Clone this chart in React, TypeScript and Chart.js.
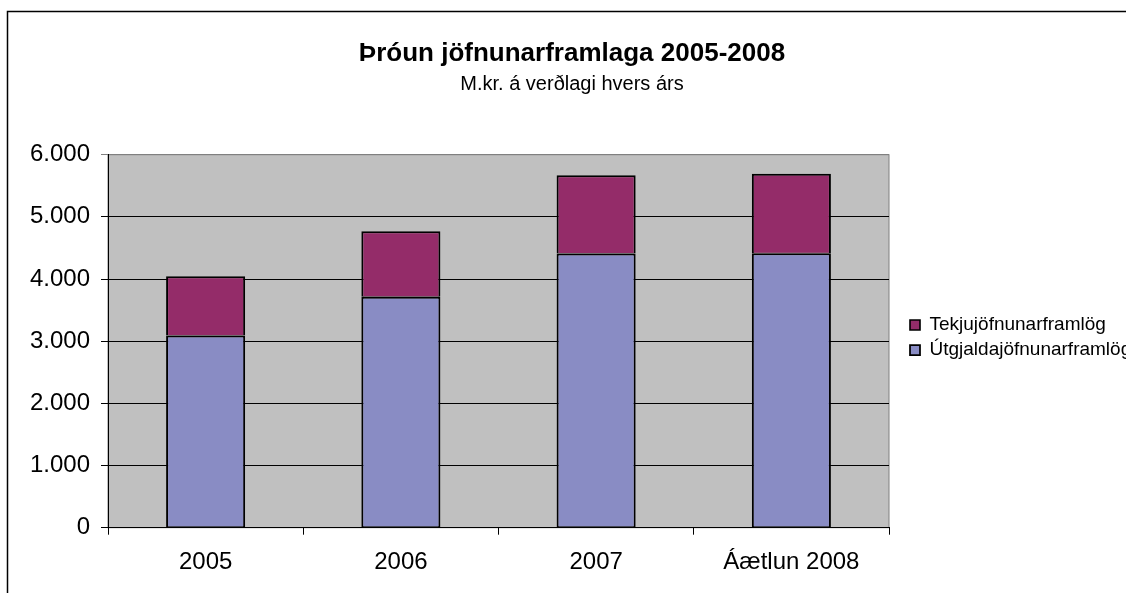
import React, { useEffect, useRef } from "react";
import { Chart, registerables } from "chart.js";

Chart.register(...registerables);

const categories = ["2005", "2006", "2007", "Áætlun 2008"];
const utgjaldaValues = [3090, 3715, 4410, 4415];
const tekjuValues = [955, 1055, 1260, 1280];
const seriesNames = ["Útgjaldajöfnunarframlög", "Tekjujöfnunarframlög"];
const seriesColors = ["#898CC4", "#942C69"];
const yMin = 0;
const yMax = 6000;
const yStep = 1000;
const titleText = "Þróun jöfnunarframlaga 2005-2008";
const subtitleText = "M.kr. á verðlagi hvers árs";

const FONT = "'Liberation Sans', Arial, sans-serif";
const W = 1126;
const H = 593;

const fmt = (v: number) => String(v).replace(/\B(?=(\d{3})+(?!\d))/g, ".");

export default function App() {
  const ref = useRef<HTMLCanvasElement | null>(null);

  useEffect(() => {
    document.body.style.margin = "0";
    const canvas = ref.current;
    if (!canvas) return;

    const framePlugin = {
      id: "frame",
      beforeInit(chart: any) {
        const lg = chart.legend;
        if (lg) {
          const orig = lg.fit.bind(lg);
          lg.fit = function () {
            orig();
            this.width = 237;
          };
        }
      },
      afterLayout(chart: any) {
        const lg = chart.legend;
        if (lg) {
          lg.left += 15;
          lg.right += 15;
          lg.top -= 3.7;
          lg.bottom -= 3.7;
        }
      },
      beforeDraw(chart: any) {
        const { ctx, chartArea } = chart;
        ctx.save();
        ctx.fillStyle = "#ffffff";
        ctx.fillRect(0, 0, W, H);
        ctx.fillStyle = "#C0C0C0";
        ctx.fillRect(chartArea.left, chartArea.top, chartArea.right - chartArea.left, chartArea.bottom - chartArea.top);
        ctx.strokeStyle = "#808080";
        ctx.lineWidth = 1;
        ctx.strokeRect(chartArea.left, chartArea.top, chartArea.right - chartArea.left, chartArea.bottom - chartArea.top);
        ctx.strokeStyle = "#000000";
        ctx.lineWidth = 1.5;
        ctx.beginPath();
        ctx.moveTo(7.5, H);
        ctx.lineTo(7.5, 11.5);
        ctx.lineTo(W, 11.5);
        ctx.stroke();
        ctx.restore();
      },
    };

    const chart = new Chart(canvas, {
      type: "bar",
      data: {
        labels: categories,
        datasets: [
          {
            label: seriesNames[0],
            data: utgjaldaValues,
            backgroundColor: seriesColors[0],
            borderColor: "#000000",
            borderWidth: { top: 2, bottom: 1, left: 2, right: 2 },
            borderSkipped: false,
            inflateAmount: 0,
            barPercentage: 0.405,
            categoryPercentage: 1,
          },
          {
            label: seriesNames[1],
            data: tekjuValues,
            backgroundColor: seriesColors[1],
            borderColor: "#000000",
            borderWidth: { top: 2, bottom: 0.5, left: 2, right: 2 },
            borderSkipped: false,
            inflateAmount: 0,
            barPercentage: 0.405,
            categoryPercentage: 1,
          },
        ],
      },
      options: {
        responsive: false,
        animation: false,
        layout: { padding: { left: 18, right: 0, top: 0, bottom: 0 } },
        plugins: {
          tooltip: { enabled: false },
          title: {
            display: true,
            text: titleText,
            color: "#000",
            font: { family: FONT, size: 26, weight: "bold" },
            padding: { top: 38.5, bottom: 0 },
          },
          subtitle: {
            display: true,
            text: subtitleText,
            color: "#000",
            font: { family: FONT, size: 20 },
            padding: { top: 2.5, bottom: 58.5 },
          },
          legend: {
            display: true,
            position: "right",
            fullSize: false,
            reverse: true,
            align: "center",
            labels: {
              color: "#000",
              font: { family: FONT, size: 19 },
              boxWidth: 10,
              boxHeight: 10,
              padding: 6,
            },
          },
        },
        scales: {
          x: {
            stacked: true,
            offset: true,
            afterFit(scale: any) {
              scale.height = 65.3;
            },
            grid: {
              display: true,
              offset: true,
              drawOnChartArea: false,
              drawTicks: true,
              tickLength: 7,
              color: "#000",
            },
            border: { display: true, color: "#000", width: 1 },
            ticks: {
              color: "#000",
              font: { family: FONT, size: 24 },
              padding: 13.4,
              maxRotation: 0,
            },
          },
          y: {
            stacked: true,
            min: yMin,
            max: yMax,
            afterFit(scale: any) {
              scale.width = 90;
            },
            grid: {
              color: (c: any) => (c.tick && c.tick.value === yMax ? "#808080" : "#000"),
              drawTicks: true,
              tickLength: 7,
              lineWidth: 1,
            },
            border: { display: true, color: "#000", width: 1 },
            ticks: {
              stepSize: yStep,
              color: "#000",
              font: { family: FONT, size: 24 },
              padding: 11,
              callback: (v: any) => fmt(Number(v)),
            },
          },
        },
      },
      plugins: [framePlugin],
    });

    return () => chart.destroy();
  }, []);

  return <canvas ref={ref} width={W} height={H} style={{ display: "block" }} />;
}
